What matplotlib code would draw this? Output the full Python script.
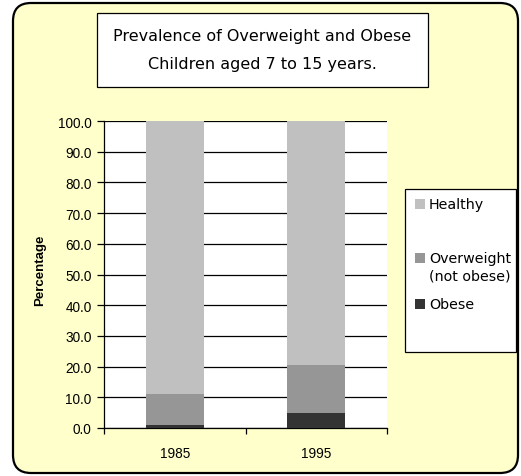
import matplotlib
matplotlib.use("Agg")
import matplotlib.pyplot as plt
from matplotlib.patches import FancyBboxPatch, Rectangle
import numpy as np

years = ["1985", "1995"]
obese = [1.1, 5.0]
overweight = [10.0, 15.5]
healthy = [88.9, 79.5]
series_names = ["Healthy", "Overweight\n(not obese)", "Obese"]
series_colors = ["#C0C0C0", "#969696", "#333333"]
yticks = [0, 10, 20, 30, 40, 50, 60, 70, 80, 90, 100]

W, H = 521, 477
fig = plt.figure(figsize=(W / 100, H / 100), dpi=100, facecolor="white")

# outer rounded yellow panel (pixel coordinates)
panel = FancyBboxPatch((13, 3), 505, 470, boxstyle="round,pad=0,rounding_size=18",
                       transform=None, facecolor="#FFFFCC", edgecolor="black",
                       linewidth=1.6, zorder=-10)
fig.patches.append(panel)

ax = fig.add_axes([104 / W, 1 - 429 / H, (387 - 104) / W, (429 - 122) / H])
ax.set_zorder(5)
ax.set_facecolor("white")

x = np.arange(len(years))
w = 0.41
ax.bar(x, obese, w, color=series_colors[2], zorder=3)
ax.bar(x, overweight, w, bottom=obese, color=series_colors[1], zorder=3)
bottom2 = np.array(obese) + np.array(overweight)
ax.bar(x, healthy, w, bottom=bottom2, color=series_colors[0], zorder=3)

ax.set_xlim(-0.5, 1.5)
ax.set_ylim(0, 100)
ax.set_yticks(yticks)
ax.set_yticklabels([f"{v:.1f}" for v in yticks], fontsize=9.8, family="Liberation Sans")
ax.yaxis.grid(True, color="black", linewidth=0.9, zorder=1)
ax.set_axisbelow(True)
ax.tick_params(axis="y", length=5, width=0.9, pad=4, color="black")

ax.set_xticks(x)
ax.set_xticklabels(years, fontsize=9.8, family="Liberation Sans")
ax.set_xticks([-0.5, 0.5, 1.5], minor=True)
ax.tick_params(axis="x", which="major", length=0, pad=13)
ax.tick_params(axis="x", which="minor", length=4, width=0.9, color="black")

for s in ["top", "right"]:
    ax.spines[s].set_visible(False)
for s in ["left", "bottom"]:
    ax.spines[s].set_linewidth(0.9)
    ax.spines[s].set_color("black")

fig.text(40 / W, 1 - 270 / H, "Percentage", rotation=90, ha="center", va="center",
         fontsize=9.5, fontweight="bold", family="Liberation Sans")

# title box
fig.patches.append(Rectangle((97, H - 88), 331, 74, transform=None,
                             facecolor="white", edgecolor="black", linewidth=0.9, zorder=2))
fig.text(262.5 / W, 1 - 37 / H, "Prevalence of Overweight and Obese", ha="center", va="center",
         fontsize=11.5, family="DejaVu Sans", zorder=3)
fig.text(262.5 / W, 1 - 64 / H, "Children aged 7 to 15 years.", ha="center", va="center",
         fontsize=11.5, family="DejaVu Sans", zorder=3)

# legend box
fig.patches.append(Rectangle((405, H - 353), 111, 163, transform=None,
                             facecolor="white", edgecolor="black", linewidth=0.9, zorder=2))
entry_y = [205, 259, 305]
for name, col, ey in zip(series_names, series_colors, entry_y):
    fig.patches.append(Rectangle((415, H - ey - 5), 10, 10, transform=None,
                                 facecolor=col, edgecolor="none", zorder=3))
    lines = name.split("\n")
    for i, ln in enumerate(lines):
        fig.text(429 / W, 1 - (ey + i * 18) / H, ln, ha="left", va="center",
                 fontsize=10.3, family="DejaVu Sans", zorder=3)

fig.savefig("out.png", dpi=100, facecolor="white")
